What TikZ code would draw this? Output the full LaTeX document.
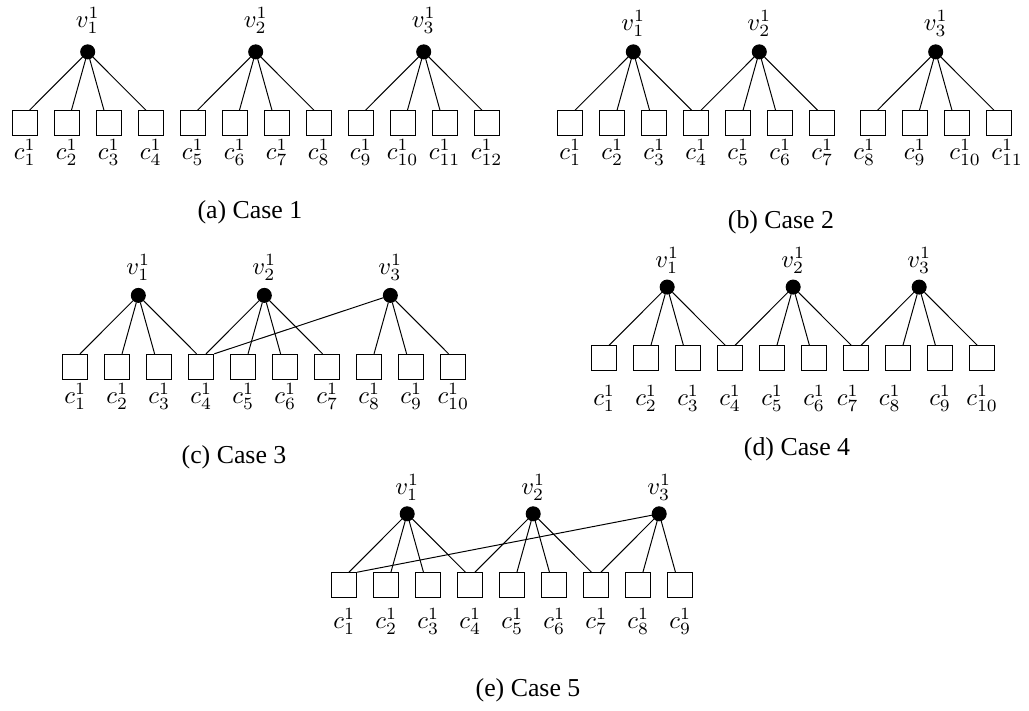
\documentclass[tikz,border=0pt]{standalone}
\usepackage{fontspec}
\newfontfamily\capfont{Liberation Serif}
\tikzset{
  cnode/.style={draw,rectangle,minimum size=0.357cm,inner sep=0pt},
  vnode/.style={draw,circle,fill=black,minimum size=0.2cm,inner sep=0pt},
  lbl/.style={anchor=base,inner sep=0pt},
  captext/.style={anchor=base,inner sep=0pt,font=\capfont\fontsize{10.5}{12}\selectfont}
}
\begin{document}
\begin{tikzpicture}
  \useasboundingbox (0,0) rectangle (14.7,-10.157);

  % (a) Case 1
  \begin{scope}[shift={(0.353,-1.761)}]
    \draw
      (0.0,0) node[cnode] (a1){}
      (0.6,0) node[cnode] (a2){}
      (1.2,0) node[cnode] (a3){}
      (1.8,0) node[cnode] (a4){}
      (2.4,0) node[cnode] (a5){}
      (3.0,0) node[cnode] (a6){}
      (3.6,0) node[cnode] (a7){}
      (4.2,0) node[cnode] (a8){}
      (4.8,0) node[cnode] (a9){}
      (5.4,0) node[cnode] (a10){}
      (6.0,0) node[cnode] (a11){}
      (6.6,0) node[cnode] (a12){}
      (0.9,1.02) node[vnode] (av1){}
      (3.3,1.02) node[vnode] (av2){}
      (5.7,1.02) node[vnode] (av3){};
    \draw
      (0.0,-0.523) node[lbl] (al1){$c_1^1$}
      (0.6,-0.523) node[lbl] (al2){$c_2^1$}
      (1.2,-0.523) node[lbl] (al3){$c_3^1$}
      (1.8,-0.523) node[lbl] (al4){$c_4^1$}
      (2.4,-0.523) node[lbl] (al5){$c_5^1$}
      (3.0,-0.523) node[lbl] (al6){$c_6^1$}
      (3.6,-0.523) node[lbl] (al7){$c_7^1$}
      (4.2,-0.523) node[lbl] (al8){$c_8^1$}
      (4.8,-0.523) node[lbl] (al9){$c_9^1$}
      (5.4,-0.523) node[lbl] (al10){$c_{10}^1$}
      (6.0,-0.523) node[lbl] (al11){$c_{11}^1$}
      (6.6,-0.523) node[lbl] (al12){$c_{12}^1$}
      (0.9,1.37) node[lbl] (avl1){$v_1^1$}
      (3.3,1.37) node[lbl] (avl2){$v_2^1$}
      (5.7,1.37) node[lbl] (avl3){$v_3^1$};
    \begin{scope}[-]
      \draw (av1) to (a1.70);
      \draw (av1) to (a2.70);
      \draw (av1) to (a3.110);
      \draw (av1) to (a4.110);
      \draw (av2) to (a5.70);
      \draw (av2) to (a6.70);
      \draw (av2) to (a7.110);
      \draw (av2) to (a8.110);
      \draw (av3) to (a9.70);
      \draw (av3) to (a10.70);
      \draw (av3) to (a11.110);
      \draw (av3) to (a12.110);
    \end{scope}
  \end{scope}
  \node[captext] (capa) at (3.571,-3.124) {(a) Case 1};

  % (b) Case 2
  \begin{scope}[shift={(8.147,-1.761)}]
    \draw
      (0.0,0) node[cnode] (b1){}
      (0.6,0) node[cnode] (b2){}
      (1.2,0) node[cnode] (b3){}
      (1.8,0) node[cnode] (b4){}
      (2.4,0) node[cnode] (b5){}
      (3.0,0) node[cnode] (b6){}
      (3.6,0) node[cnode] (b7){}
      (4.32,0) node[cnode] (b8){}
      (4.92,0) node[cnode] (b9){}
      (5.52,0) node[cnode] (b10){}
      (6.12,0) node[cnode] (b11){}
      (0.9,1.02) node[vnode] (bv1){}
      (2.7,1.02) node[vnode] (bv2){}
      (5.22,1.02) node[vnode] (bv3){};
    \draw
      (0.0,-0.523) node[lbl] (bl1){$c_1^1$}
      (0.6,-0.523) node[lbl] (bl2){$c_2^1$}
      (1.2,-0.523) node[lbl] (bl3){$c_3^1$}
      (1.8,-0.523) node[lbl] (bl4){$c_4^1$}
      (2.4,-0.523) node[lbl] (bl5){$c_5^1$}
      (3.0,-0.523) node[lbl] (bl6){$c_6^1$}
      (3.6,-0.523) node[lbl] (bl7){$c_7^1$}
      (4.2,-0.523) node[lbl] (bl8){$c_8^1$}
      (4.92,-0.523) node[lbl] (bl9){$c_9^1$}
      (5.64,-0.523) node[lbl] (bl10){$c_{10}^1$}
      (6.24,-0.523) node[lbl] (bl11){$c_{11}^1$}
      (0.9,1.32) node[lbl] (bvl1){$v_1^1$}
      (2.7,1.32) node[lbl] (bvl2){$v_2^1$}
      (5.22,1.32) node[lbl] (bvl3){$v_3^1$};
    \begin{scope}[-]
      \draw (bv1) to (b1.70);
      \draw (bv1) to (b2.70);
      \draw (bv1) to (b3.110);
      \draw (bv1) to (b4.110);
      \draw (bv2) to (b4.70);
      \draw (bv2) to (b5.70);
      \draw (bv2) to (b6.110);
      \draw (bv2) to (b7.110);
      \draw (bv3) to (b8.70);
      \draw (bv3) to (b9.70);
      \draw (bv3) to (b10.110);
      \draw (bv3) to (b11.110);
    \end{scope}
  \end{scope}
  \node[captext] (capb) at (11.157,-3.264) {(b) Case 2};

  % (c) Case 3
  \begin{scope}[shift={(1.076,-5.240)}]
    \draw
      (0.0,0) node[cnode] (c1){}
      (0.6,0) node[cnode] (c2){}
      (1.2,0) node[cnode] (c3){}
      (1.8,0) node[cnode] (c4){}
      (2.4,0) node[cnode] (c5){}
      (3.0,0) node[cnode] (c6){}
      (3.6,0) node[cnode] (c7){}
      (4.2,0) node[cnode] (c8){}
      (4.8,0) node[cnode] (c9){}
      (5.4,0) node[cnode] (c10){}
      (0.9,1.02) node[vnode] (cv1){}
      (2.7,1.02) node[vnode] (cv2){}
      (4.5,1.02) node[vnode] (cv3){};
    \draw
      (0.0,-0.523) node[lbl] (cl1){$c_1^1$}
      (0.6,-0.523) node[lbl] (cl2){$c_2^1$}
      (1.2,-0.523) node[lbl] (cl3){$c_3^1$}
      (1.8,-0.523) node[lbl] (cl4){$c_4^1$}
      (2.4,-0.523) node[lbl] (cl5){$c_5^1$}
      (3.0,-0.523) node[lbl] (cl6){$c_6^1$}
      (3.6,-0.523) node[lbl] (cl7){$c_7^1$}
      (4.2,-0.523) node[lbl] (cl8){$c_8^1$}
      (4.8,-0.523) node[lbl] (cl9){$c_9^1$}
      (5.4,-0.523) node[lbl] (cl10){$c_{10}^1$}
      (0.9,1.32) node[lbl] (cvl1){$v_1^1$}
      (2.7,1.32) node[lbl] (cvl2){$v_2^1$}
      (4.5,1.32) node[lbl] (cvl3){$v_3^1$};
    \begin{scope}[-]
      \draw (cv1) to (c1.70);
      \draw (cv1) to (c2.70);
      \draw (cv1) to (c3.110);
      \draw (cv1) to (c4.110);
      \draw (cv2) to (c4.70);
      \draw (cv2) to (c5.70);
      \draw (cv2) to (c6.110);
      \draw (cv2) to (c7.110);
      \draw (cv3) to (c4.north east);
      \draw (cv3) to (c8.70);
      \draw (cv3) to (c9.110);
      \draw (cv3) to (c10.110);
    \end{scope}
  \end{scope}
  \node[captext] (capc) at (3.343,-6.621) {(c) Case 3};

  % (d) Case 4
  \begin{scope}[shift={(8.631,-5.121)}]
    \draw
      (0.0,0) node[cnode] (d1){}
      (0.6,0) node[cnode] (d2){}
      (1.2,0) node[cnode] (d3){}
      (1.8,0) node[cnode] (d4){}
      (2.4,0) node[cnode] (d5){}
      (3.0,0) node[cnode] (d6){}
      (3.6,0) node[cnode] (d7){}
      (4.2,0) node[cnode] (d8){}
      (4.8,0) node[cnode] (d9){}
      (5.4,0) node[cnode] (d10){}
      (0.9,1.02) node[vnode] (dv1){}
      (2.7,1.02) node[vnode] (dv2){}
      (4.5,1.02) node[vnode] (dv3){};
    \draw
      (0.0,-0.674) node[lbl] (dl1){$c_1^1$}
      (0.6,-0.674) node[lbl] (dl2){$c_2^1$}
      (1.2,-0.674) node[lbl] (dl3){$c_3^1$}
      (1.8,-0.674) node[lbl] (dl4){$c_4^1$}
      (2.4,-0.674) node[lbl] (dl5){$c_5^1$}
      (3.0,-0.674) node[lbl] (dl6){$c_6^1$}
      (3.48,-0.674) node[lbl] (dl7){$c_7^1$}
      (4.08,-0.674) node[lbl] (dl8){$c_8^1$}
      (4.8,-0.674) node[lbl] (dl9){$c_9^1$}
      (5.4,-0.674) node[lbl] (dl10){$c_{10}^1$}
      (0.9,1.3) node[lbl] (dvl1){$v_1^1$}
      (2.7,1.3) node[lbl] (dvl2){$v_2^1$}
      (4.5,1.3) node[lbl] (dvl3){$v_3^1$};
    \begin{scope}[-]
      \draw (dv1) to (d1.70);
      \draw (dv1) to (d2.70);
      \draw (dv1) to (d3.110);
      \draw (dv1) to (d4.110);
      \draw (dv2) to (d4.70);
      \draw (dv2) to (d5.70);
      \draw (dv2) to (d6.110);
      \draw (dv2) to (d7.110);
      \draw (dv3) to (d7.70);
      \draw (dv3) to (d8.70);
      \draw (dv3) to (d9.110);
      \draw (dv3) to (d10.110);
    \end{scope}
  \end{scope}
  \node[captext] (capd) at (11.386,-6.514) {(d) Case 4};

  % (e) Case 5
  \begin{scope}[shift={(4.917,-8.360)}]
    \draw
      (0.0,0) node[cnode] (e1){}
      (0.6,0) node[cnode] (e2){}
      (1.2,0) node[cnode] (e3){}
      (1.8,0) node[cnode] (e4){}
      (2.4,0) node[cnode] (e5){}
      (3.0,0) node[cnode] (e6){}
      (3.6,0) node[cnode] (e7){}
      (4.2,0) node[cnode] (e8){}
      (4.8,0) node[cnode] (e9){}
      (0.9,1.02) node[vnode] (ev1){}
      (2.7,1.02) node[vnode] (ev2){}
      (4.5,1.02) node[vnode] (ev3){};
    \draw
      (0.0,-0.616) node[lbl] (el1){$c_1^1$}
      (0.6,-0.616) node[lbl] (el2){$c_2^1$}
      (1.2,-0.616) node[lbl] (el3){$c_3^1$}
      (1.8,-0.616) node[lbl] (el4){$c_4^1$}
      (2.4,-0.616) node[lbl] (el5){$c_5^1$}
      (3.0,-0.616) node[lbl] (el6){$c_6^1$}
      (3.6,-0.616) node[lbl] (el7){$c_7^1$}
      (4.2,-0.616) node[lbl] (el8){$c_8^1$}
      (4.8,-0.616) node[lbl] (el9){$c_9^1$}
      (0.9,1.3) node[lbl] (evl1){$v_1^1$}
      (2.7,1.3) node[lbl] (evl2){$v_2^1$}
      (4.5,1.3) node[lbl] (evl3){$v_3^1$};
    \begin{scope}[-]
      \draw (ev1) to (e1.70);
      \draw (ev1) to (e2.70);
      \draw (ev1) to (e3.110);
      \draw (ev1) to (e4.110);
      \draw (ev2) to (e4.70);
      \draw (ev2) to (e5.70);
      \draw (ev2) to (e6.110);
      \draw (ev2) to (e7.110);
      \draw (ev3) to (e1.north east);
      \draw (ev3) to (e7.70);
      \draw (ev3) to (e8.70);
      \draw (ev3) to (e9.110);
    \end{scope}
  \end{scope}
  \node[captext] (cape) at (7.543,-9.957) {(e) Case 5};
\end{tikzpicture}
\end{document}
